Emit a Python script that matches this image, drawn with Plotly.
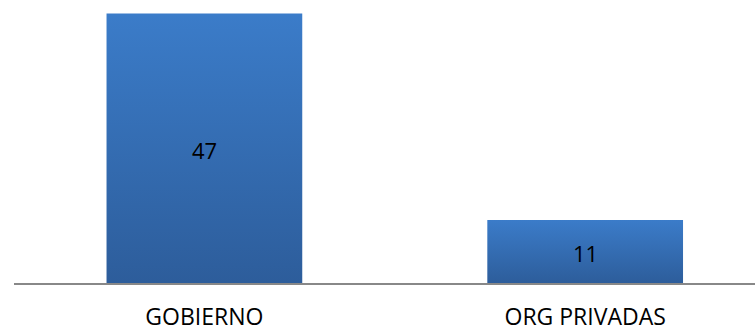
import plotly.graph_objects as go

categories = ["GOBIERNO", "ORG PRIVADAS"]
values = [47, 11]
value_labels = ["47", "11"]

bar_width = 0.514
top_color = "#3B7CC9"
bottom_color = "#2D5D9B"
font_family = "Open Sans, Liberation Sans, sans-serif"

fig = go.Figure()

# gradient-filled bars computed from data via the axis scales
for i, (cat, v) in enumerate(zip(categories, values)):
    x0, x1 = i - bar_width / 2, i + bar_width / 2
    fig.add_trace(go.Scatter(
        x=[x0, x1, x1, x0, x0], y=[0, 0, v, v, 0],
        mode="lines", fill="toself", line=dict(width=0),
        fillgradient=dict(type="vertical",
                          colorscale=[[0, bottom_color], [1, top_color]],
                          start=0, stop=v),
        hoverinfo="skip", showlegend=False))

# value labels at bar mid-height
for i, (v, lab) in enumerate(zip(values, value_labels)):
    fig.add_annotation(x=i, y=v / 2, text=lab, showarrow=False,
                       font=dict(family=font_family, size=22, color="#000000"),
                       xanchor="center", yanchor="middle", yshift=-2)

fig.update_layout(
    width=755, height=331,
    margin=dict(l=13.5, r=0, t=0, b=47.5),
    paper_bgcolor="white", plot_bgcolor="white",
    showlegend=False,
    xaxis=dict(
        range=[-0.5, 1.446],
        tickmode="array", tickvals=list(range(len(categories))), ticktext=categories,
        showgrid=False, zeroline=False, automargin=False,
        showline=True, linecolor="#888888", linewidth=2,
        ticks="", ticklabelstandoff=12,
        tickfont=dict(family=font_family, size=23, color="#000000"),
    ),
    yaxis=dict(range=[0, 49.35], visible=False, showgrid=False, zeroline=False,
               automargin=False),
)

fig.write_html("out.html")
